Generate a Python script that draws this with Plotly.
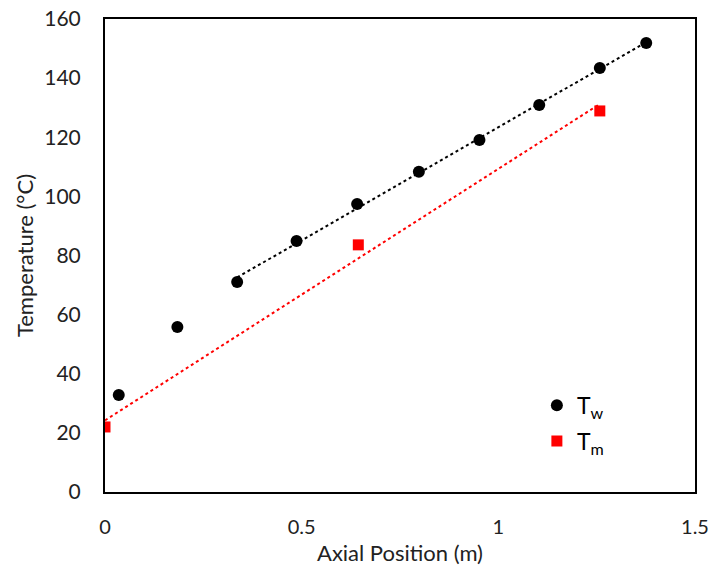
import numpy as np
import plotly.graph_objects as go

# Data
x_w = [0.035, 0.184, 0.336, 0.487, 0.641, 0.798, 0.952, 1.104, 1.258, 1.376]
t_w = [32.8, 55.8, 71.0, 84.9, 97.4, 108.3, 119.1, 130.9, 143.4, 151.9]
x_m = [0.0, 0.644, 1.258]
t_m = [22.0, 83.6, 128.9]

# linear trendlines (as in the source chart): Tw fitted from 3rd point on
fw = np.polyfit(x_w[2:], t_w[2:], 1)
fm = np.polyfit(x_m, t_m, 1)
xw_line = [x_w[2], x_w[-1]]
xm_line = [x_m[0], x_m[-1]]

FONT = "Lato"

fig = go.Figure()
fig.add_trace(go.Scatter(x=xw_line, y=list(np.polyval(fw, xw_line)), mode="lines",
                         line=dict(color="black", width=2, dash="dot"), showlegend=False, hoverinfo="skip"))
fig.add_trace(go.Scatter(x=xm_line, y=list(np.polyval(fm, xm_line)), mode="lines",
                         line=dict(color="#ff0000", width=2, dash="dot"), showlegend=False, hoverinfo="skip"))
fig.add_trace(go.Scatter(x=x_w, y=t_w, mode="markers", name="T<sub>w</sub>", legendgroup="w",
                         marker=dict(symbol="circle", size=12, color="black")))
fig.add_trace(go.Scatter(x=x_m, y=t_m, mode="markers", name="T<sub>m</sub>", legendgroup="m",
                         marker=dict(symbol="square", size=11, color="#ff0000")))

fig.update_layout(
    width=712, height=574,
    margin=dict(l=105, r=17, t=19, b=82),
    paper_bgcolor="white", plot_bgcolor="white",
    font=dict(family=FONT, size=21, color="#222"),
    legend=dict(x=0.732, y=0.229, xanchor="left", yanchor="top",
                bgcolor="rgba(0,0,0,0)", font=dict(size=23, color="black"),
                tracegroupgap=3, itemwidth=30),
    showlegend=True,
)
fig.update_xaxes(range=[0, 1.5], tickvals=[0, 0.5, 1, 1.5], ticktext=["0", "0.5", "1", "1.5"],
                 showgrid=False, zeroline=False, showline=True, linecolor="black", linewidth=2,
                 mirror=True, ticks="", ticklabelstandoff=16, automargin=False,
                 ticklabeloverflow="allow", tickfont=dict(size=20),
                 title=dict(text="Axial Position (m)", font=dict(size=22, color="#222"), standoff=9))
fig.update_yaxes(range=[0, 160], tickvals=list(range(0, 161, 20)),
                 showgrid=False, zeroline=False, showline=True, linecolor="black", linewidth=2,
                 mirror=True, ticks="", ticklabelstandoff=18, automargin=False,
                 ticklabeloverflow="allow",
                 title=dict(text="Temperature (°C)", font=dict(size=22, color="#222"), standoff=5))

fig.write_html("out.html")
